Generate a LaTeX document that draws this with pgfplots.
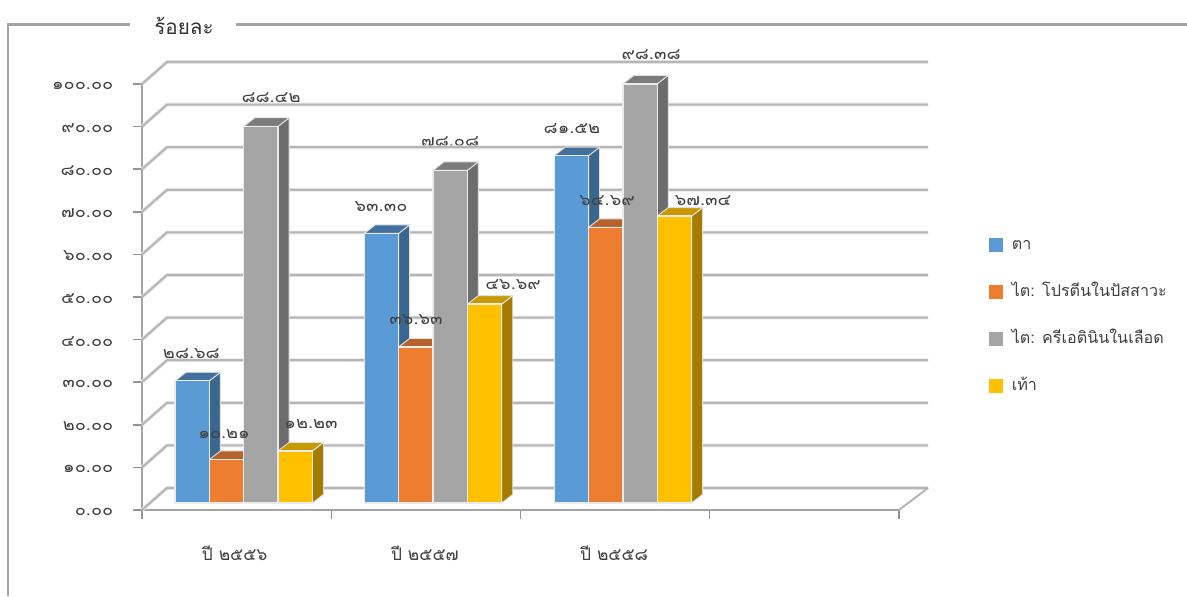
\documentclass[border=0pt]{standalone}
\usepackage{fontspec}
\usepackage{pgfplots}
\pgfplotsset{compat=1.18}
\setmainfont[Script=Thai]{Loma}
\newfontfamily\digitfont[Script=Thai,FakeStretch=1.14]{Loma}

\definecolor{txt}{HTML}{404040}
\definecolor{rule}{HTML}{A4A4A4}
\definecolor{blueF}{HTML}{5B9BD5}\definecolor{blueS}{HTML}{3B668E}\definecolor{blueT}{HTML}{41719C}
\definecolor{orgF}{HTML}{ED7D31}\definecolor{orgS}{HTML}{A8592A}\definecolor{orgT}{HTML}{B8622B}
\definecolor{gryF}{HTML}{A5A5A5}\definecolor{gryS}{HTML}{6C6C6C}\definecolor{gryT}{HTML}{7C7C7C}
\definecolor{ylwF}{HTML}{FFC000}\definecolor{ylwS}{HTML}{A67C00}\definecolor{ylwT}{HTML}{C99A00}

% one unit of x is one category; bars stand on a floor slightly behind the front edge
\def\barw{0.1815}\def\depx{0.058}\def\depy{2.0}\def\floor{1.65}

\newcommand\threedbar[5]{%
  \pgfmathsetmacro\xa{#1}%
  \pgfmathsetmacro\xb{#1+\barw}%
  \pgfmathsetmacro\xc{\xb+\depx}%
  \pgfmathsetmacro\xd{\xa+\depx}%
  \pgfmathsetmacro\ytop{#2+\floor}%
  \pgfmathsetmacro\ytopb{\ytop+\depy}%
  \pgfmathsetmacro\ybotb{\floor+\depy}%
  \addplot[forget plot,fill=#4,draw=white!88!black,line width=.7pt,line join=round]
    coordinates {(\xb,\floor)(\xc,\ybotb)(\xc,\ytopb)(\xb,\ytop)} -- cycle;
  \addplot[forget plot,fill=#5,draw=white!88!black,line width=.7pt,line join=round]
    coordinates {(\xa,\ytop)(\xb,\ytop)(\xc,\ytopb)(\xd,\ytopb)} -- cycle;
  \addplot[forget plot,fill=#3,draw=white!92!black,line width=1pt,line join=round]
    coordinates {(\xa,\floor)(\xb,\floor)(\xb,\ytop)(\xa,\ytop)} -- cycle;
}
\newcommand\vfont{\digitfont\fontsize{12pt}{14pt}\selectfont}
% value label: optional rise above the value, centre x in category units, value, text
\newcommand\vallabel[4][8.0]{%
  \node[font=\vfont,text=txt,inner sep=0pt] at (axis cs:#2,#3+#1) {#4};
}
% back-wall grid line with its slanted return along the side wall
\newcommand\wallline[1]{%
  \pgfmathsetmacro\yb{#1+5.164}%
  \addplot[forget plot,black!10,line width=2.8pt,line join=round]
    coordinates {(0,#1)(0.1321,\yb)(4.1532,\yb)};
  \addplot[forget plot,rule!80,line width=1.5pt,line join=round]
    coordinates {(0,#1)(0.1321,\yb)(4.1532,\yb)};
}

\begin{document}
\begin{tikzpicture}
\begin{scope}[x=.75pt,y=-.75pt,shift={(-106.5pt,382.5pt)}]
  \path[use as bounding box] (0,0) rectangle (1187,596);
  \draw[rule,line width=1.7pt] (8,596) -- (8,24.5) -- (130,24.5);
  \draw[rule,line width=1.7pt] (236,24.5) -- (1187,24.5);
  \node[font=\fontsize{15.5pt}{18pt}\selectfont,text=black!80,inner sep=0pt] at (184,26) {ร้อยละ};
\end{scope}
\begin{axis}[
  scale only axis,width=567.75pt,height=319.5pt,
  xmin=0,xmax=4,ymin=0,ymax=100,clip=false,
  axis x line*=bottom,axis y line*=left,
  axis line style={-,rule,line width=1.7pt},
  tick align=outside,major tick length=7pt,
  tick style={rule!90!black,line width=1.1pt},
  xtick={0,1,2,3,4},xticklabels={},
  extra x ticks={0.49,1.495,2.495},
  extra x tick labels={ปี ๒๕๕๖,ปี ๒๕๕๗,ปี ๒๕๕๘},
  extra x tick style={major tick length=0pt,
    xticklabel style={font=\fontsize{13pt}{15pt}\selectfont,text=txt,yshift=-23.5pt}},
  ytick={0,10,...,100},
  yticklabels={๐.๐๐,๑๐.๐๐,๒๐.๐๐,๓๐.๐๐,๔๐.๐๐,๕๐.๐๐,๖๐.๐๐,๗๐.๐๐,๘๐.๐๐,๙๐.๐๐,๑๐๐.๐๐},
  yticklabel style={font=\vfont,text=txt,anchor=east,xshift=-11pt,yshift=-1.2pt},
  legend style={draw=none,fill=none,at={(axis cs:4.451,45.8)},anchor=west,
    font=\fontsize{12.1pt}{14pt}\selectfont,text=txt,row sep=19.25pt,
    nodes={text height=12pt,text depth=4pt,inner sep=0pt},
    column sep=7.25pt},
  legend cell align=left,
  legend image code/.code={\fill[#1] (0pt,-4.875pt) rectangle (9.75pt,4.875pt);},
]
\addlegendimage{blueF}\addlegendentry{ตา}
\addlegendimage{orgF}\addlegendentry{ไต: โปรตีนในปัสสาวะ}
\addlegendimage{gryF}\addlegendentry{ไต: ครีเอตินินในเลือด}
\addlegendimage{ylwF}\addlegendentry{เท้า}

% labels that the wall lines pass over
\vallabel{0.261}{28.68}{๒๘.๖๘}
\vallabel[8.4]{0.682}{88.42}{๘๘.๔๒}
\vallabel{1.263}{63.30}{๖๓.๓๐}
\vallabel[8.4]{1.628}{78.08}{๗๘.๐๘}
\vallabel[6.1]{1.961}{46.69}{๔๖.๖๙}
\vallabel{2.272}{81.52}{๘๑.๕๒}
\vallabel[8.4]{2.690}{98.38}{๙๘.๓๘}
\vallabel[5.2]{2.965}{67.34}{๖๗.๓๔}

\wallline{0}\wallline{10}\wallline{20}\wallline{30}\wallline{40}\wallline{50}
\wallline{60}\wallline{70}\wallline{80}\wallline{90}\wallline{100}
\addplot[forget plot,rule!80,line width=1.5pt] coordinates {(4,0)(4.1532,5.164)};

% ปี ๒๕๕๖
\threedbar{0.175}{28.68}{blueF}{blueS}{blueT}
\threedbar{0.3565}{10.21}{orgF}{orgS}{orgT}
\threedbar{0.538}{88.42}{gryF}{gryS}{gryT}
\threedbar{0.7195}{12.23}{ylwF}{ylwS}{ylwT}
% ปี ๒๕๕๗
\threedbar{1.175}{63.30}{blueF}{blueS}{blueT}
\threedbar{1.3565}{36.63}{orgF}{orgS}{orgT}
\threedbar{1.538}{78.08}{gryF}{gryS}{gryT}
\threedbar{1.7195}{46.69}{ylwF}{ylwS}{ylwT}
% ปี ๒๕๕๘
\threedbar{2.178}{81.52}{blueF}{blueS}{blueT}
\threedbar{2.3595}{64.69}{orgF}{orgS}{orgT}
\threedbar{2.541}{98.38}{gryF}{gryS}{gryT}
\threedbar{2.7225}{67.34}{ylwF}{ylwS}{ylwT}

% labels that sit in front of the bars
\vallabel[7.5]{0.434}{10.21}{๑๐.๒๑}
\vallabel{0.893}{12.23}{๑๒.๒๓}
\vallabel{1.448}{36.63}{๓๖.๖๓}
\vallabel{2.457}{64.69}{๖๔.๖๙}
\end{axis}
\end{tikzpicture}
\end{document}
